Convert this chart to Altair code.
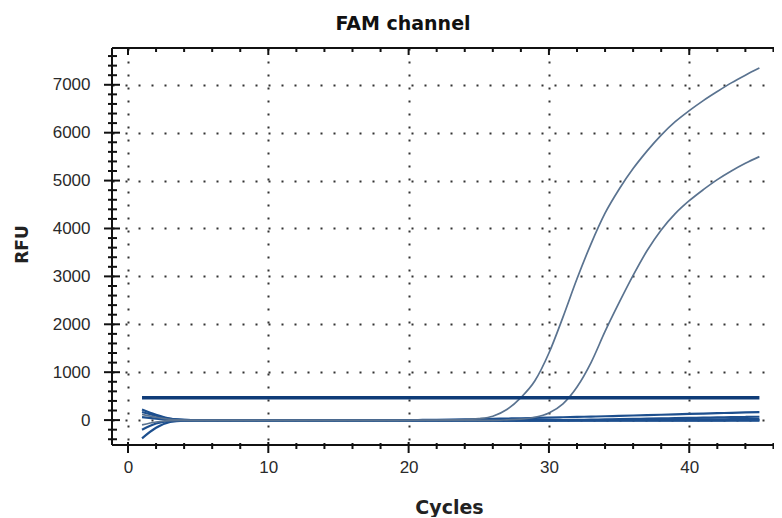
import altair as alt
import pandas as pd

# ---------------- data ----------------
cycles = list(range(1, 46))

amp_early = [120, 60, 15, 0, -5, -5, -5, -5, -5, -5, -5, -5, -5, -5, -5, -5, -5, -5, -5, -5,
             0, 0, 5, 10, 30, 80, 220, 470, 820, 1400, 2150, 2950, 3680, 4320, 4820, 5250,
             5620, 5950, 6230, 6460, 6670, 6860, 7040, 7200, 7350]

amp_late = [-100, -40, -10, -5, -5, -5, -5, -5, -5, -5, -5, -5, -5, -5, -5, -5, -5, -5, -5,
            -5, -5, -5, -5, -5, -5, -5, 5, 20, 60, 150, 340, 690, 1200, 1850, 2450, 3020,
            3540, 3970, 4310, 4580, 4810, 5020, 5200, 5360, 5500]

base_1 = [220, 110, 30, 5, 0, 0, 0, 0, 0, 0, 0, 0, 0, 0, 0, 0, 0, 0, 0, 0,
          3, 6, 10, 15, 20, 26, 32, 38, 45, 52, 59, 66, 73, 80, 88, 96, 104, 112, 120,
          128, 136, 144, 152, 160, 168]
base_2 = [-200, -70, -15, -5, -5, -5, -5, -5, -5, -5, -5, -5, -5, -5, -5, -5, -5, -5, -5,
          -5, -5, -5, -5, -5, -5, -5, -5, -5, -5, -5, 0, 5, 10, 15, 20, 25, 30, 35, 40,
          45, 50, 55, 60, 65, 70]
base_3 = [-380, -160, -40, -10, -5, -5, -5, -5, -5, -5, -5, -5, -5, -5, -5, -5, -5, -5, -5,
          -5, -5, -5, -5, -5, -5, -5, -5, -5, -5, -5, -5, -5, -5, -5, -5, -5, -5, -5, -5,
          -5, -5, -5, -3, -2, 0]
base_4 = [170, 90, 25, 5, 0, 0, 0, 0, 0, 0, 0, 0, 0, 0, 0, 0, 0, 0, 0, 0,
          0, 0, 0, 0, 0, 0, 0, 0, 0, 0, 0, 0, 0, 0, 5, 5, 10, 10, 10, 15, 15, 15, 20, 20, 20]
base_5 = [60, 30, 5, -5, -10, -10, -10, -10, -10, -10, -10, -10, -10, -10, -10, -10, -10,
          -10, -10, -10, -10, -10, -10, -10, -10, -10, -10, -10, -10, -10, -10, -10, -10,
          -10, -10, -10, -10, -10, -10, -10, -10, -10, -10, -10, -10]

threshold_cycles = [1, 45]
threshold_value = 466

chart_title = "FAM channel"
x_label_values = [0, 10, 20, 30, 40]
y_label_values = [0, 1000, 2000, 3000, 4000, 5000, 6000, 7000]
x_minor_ticks = list(range(0, 47, 2))
y_minor_ticks = list(range(-400, 7700, 200))

# ---------------- layout ----------------
W, H = 662, 397
XDOM = [-1.14, 46.04]
YDOM = [-520, 7768]
xscale = alt.Scale(domain=XDOM, nice=False, zero=False)
yscale = alt.Scale(domain=YDOM, nice=False, zero=False)

LABEL_FONT = "Liberation Sans"
TITLE_FONT = "DejaVu Sans"

base_rows = []
for name, vals in [("b1", base_1), ("b2", base_2), ("b3", base_3), ("b4", base_4), ("b5", base_5)]:
    for c, v in zip(cycles, vals):
        base_rows.append({"cycle": c, "rfu": v, "series": name})
base_df = pd.DataFrame(base_rows)

amp_rows = []
for name, vals in [("a1", amp_early), ("a2", amp_late)]:
    for c, v in zip(cycles, vals):
        amp_rows.append({"cycle": c, "rfu": v, "series": name})
amp_df = pd.DataFrame(amp_rows)

thr_df = pd.DataFrame({"cycle": threshold_cycles, "rfu": [threshold_value] * 2})

x_axis = alt.Axis(
    values=x_label_values, grid=True, gridDash=[2, 11], gridColor="#333", gridWidth=2,
    domain=False, ticks=False, tickSize=0, labelFont=LABEL_FONT, labelFontSize=17,
    labelColor="#2a2a2a", labelPadding=14, title="Cycles", titleFont=TITLE_FONT,
    titleFontSize=19, titleFontWeight="bold", titleColor="#222", titleX=337, titleY=68,
    titleBaseline="alphabetic", titleAlign="center",
)
y_axis = alt.Axis(
    values=y_label_values, format="d", grid=True, gridDash=[2, 11], gridColor="#333",
    gridWidth=2, domain=False, ticks=False, tickSize=0, labelFont=LABEL_FONT,
    labelFontSize=17, labelColor="#2a2a2a", labelPadding=22, title="RFU",
    titleFont=TITLE_FONT, titleFontSize=17, titleFontWeight="bold", titleColor="#222",
    titleAngle=270, titleX=-85, titleY=196, titleBaseline="alphabetic", titleAlign="center",
)

def X(field):
    return alt.X(field, scale=xscale, axis=x_axis)

def Y(field):
    return alt.Y(field, scale=yscale, axis=y_axis)

baselines = alt.Chart(base_df).mark_line(
    color="#1d4f8e", strokeWidth=2.2, interpolate="monotone"
).encode(x=X("cycle:Q"), y=Y("rfu:Q"), detail="series:N")

amps = alt.Chart(amp_df).mark_line(
    color="#5a7390", strokeWidth=1.7, interpolate="monotone"
).encode(x=X("cycle:Q"), y=Y("rfu:Q"), detail="series:N")

thr = alt.Chart(thr_df).mark_line(color="#0f3c78", strokeWidth=3.5).encode(
    x=X("cycle:Q"), y=Y("rfu:Q"),
)

# frame lines
top_line = alt.Chart(pd.DataFrame({"v": [YDOM[1]]})).mark_rule(color="#111", strokeWidth=2).encode(
    y=Y("v:Q"))
bottom_line = alt.Chart(pd.DataFrame({"v": [YDOM[0]]})).mark_rule(color="#111", strokeWidth=2).encode(
    y=Y("v:Q"))
left_line = alt.Chart(pd.DataFrame({"v": [XDOM[0]]})).mark_rule(color="#111", strokeWidth=2).encode(
    x=X("v:Q"))

# tick marks
xmaj = pd.DataFrame({"v": x_label_values})
xmin = pd.DataFrame({"v": [v for v in x_minor_ticks if v not in x_label_values]})
ymaj = pd.DataFrame({"v": y_label_values})
ymin = pd.DataFrame({"v": [v for v in y_minor_ticks if v not in y_label_values]})

tick_style = dict(color="#111", strokeWidth=2)
bx_major = alt.Chart(xmaj).mark_rule(**tick_style).encode(
    x=X("v:Q"), y=alt.value(H - 3), y2=alt.value(H + 8))
bx_minor = alt.Chart(xmin).mark_rule(**tick_style).encode(
    x=X("v:Q"), y=alt.value(H - 2), y2=alt.value(H + 4))
tx_major = alt.Chart(xmaj).mark_rule(**tick_style).encode(
    x=X("v:Q"), y=alt.value(0), y2=alt.value(7))
tx_minor = alt.Chart(xmin).mark_rule(**tick_style).encode(
    x=X("v:Q"), y=alt.value(0), y2=alt.value(4))
ly_major = alt.Chart(ymaj).mark_rule(**tick_style).encode(
    y=Y("v:Q"), x=alt.value(-8), x2=alt.value(8))
ly_minor = alt.Chart(ymin).mark_rule(**tick_style).encode(
    y=Y("v:Q"), x=alt.value(-4), x2=alt.value(5))

title_mark = alt.Chart(pd.DataFrame({"t": [chart_title]})).mark_text(
    font=TITLE_FONT, fontSize=19, fontWeight="bold", color="#111",
    align="center", baseline="alphabetic",
).encode(text="t:N", x=alt.value(291), y=alt.value(-18))

chart = alt.layer(
    baselines, amps, thr, top_line, bottom_line, left_line,
    bx_major, bx_minor, tx_major, tx_minor, ly_major, ly_minor, title_mark,
).properties(
    width=W,
    height=H,
    padding={"left": 104, "top": 40, "right": 0, "bottom": 72},
    autosize=alt.AutoSizeParams(type="none"),
).configure_view(stroke=None).configure(background="white")

chart.save("out.html", embed_options={"renderer": "svg", "actions": False})
